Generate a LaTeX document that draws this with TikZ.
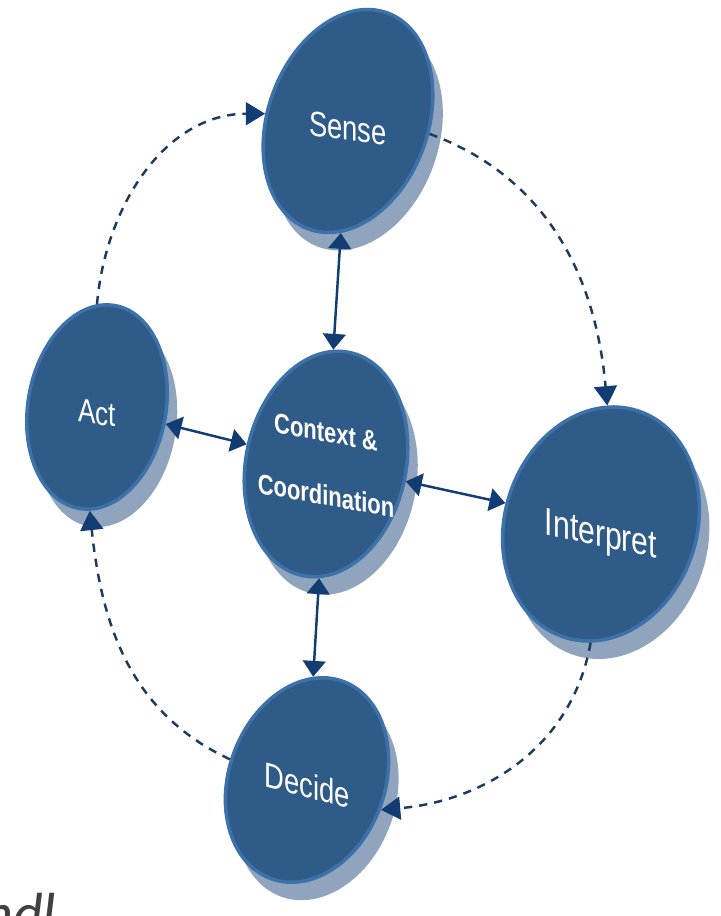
\documentclass[tikz,border=0pt]{standalone}
\usepackage{fontspec}
\setmainfont{Liberation Sans}
\newfontfamily\stagefont[FakeStretch=0.78]{Liberation Sans}
\newfontfamily\notefont{Carlito}
\usetikzlibrary{shapes.geometric,arrows.meta,shadows}
\definecolor{stagefill}{HTML}{2F5B88}
\definecolor{stagerim}{HTML}{3C71A9}
\definecolor{stageshade}{HTML}{90A5BD}
\definecolor{linkcol}{HTML}{123D72}
\definecolor{flowcol}{HTML}{1F3A5F}
\tikzset{
  stage/.style={ellipse, inner sep=0pt, fill=stagefill, draw=stagerim,
    line width=2pt,
    drop shadow={shadow xshift=0.2cm, shadow yshift=-0.36cm,
      fill=stageshade, opacity=1}},
  tag/.style={text=white, inner sep=0pt, align=center, transform shape},
  link/.style={{Triangle[length=9pt,width=13pt]}-{Triangle[length=9pt,width=13pt]},
    draw=linkcol, line width=1.4pt},
  flow/.style={-{Triangle[length=11pt,width=13pt,color=linkcol]},
    draw=flowcol, line width=1.4pt, dash pattern=on 4.7pt off 4pt}
}
\begin{document}
\begin{tikzpicture}[x=0.02cm,y=0.02cm]
  \useasboundingbox (0,0) rectangle (720,916);
  % stages
  \node[stage, minimum width=3.2cm, minimum height=4.6cm, rotate=-20] (sense) at (348,795) {};
  \node[stage, minimum width=3.2cm, minimum height=4.56cm, rotate=-12] (context) at (326,452) {};
  \node[stage, minimum width=3.84cm, minimum height=4.76cm, rotate=-18] (interpret) at (601,392) {};
  \node[stage, minimum width=2.76cm, minimum height=4.12cm, rotate=-10] (act) at (97,509) {};
  \node[stage, minimum width=3.12cm, minimum height=4.2cm, rotate=-20] (decide) at (307,136) {};
  % stage names
  \node[tag, yslant=-0.13, font=\stagefont\fontsize{20}{23}\selectfont]
    (sense-t) at ([yshift=-0.14cm]sense) {Sense};
  \node[tag, yslant=-0.18, font=\stagefont\fontsize{16}{36}\selectfont\bfseries]
    (context-t) at (context) {Context \&\\Coordination};
  \node[tag, yslant=-0.21, font=\stagefont\fontsize{22}{26}\selectfont]
    (interpret-t) at ([yshift=-0.26cm]interpret) {Interpret};
  \node[tag, yslant=-0.14, font=\stagefont\fontsize{19}{22}\selectfont]
    (act-t) at ([yshift=-0.12cm]act) {Act};
  \node[tag, yslant=-0.27, font=\stagefont\fontsize{20}{23}\selectfont]
    (decide-t) at ([yshift=-0.1cm]decide) {Decide};
  % links to the centre
  \draw[link] (sense) -- (context);
  \draw[link] (act) -- (context);
  \draw[link] (context) -- (interpret);
  \draw[link] (context) -- (decide);
  % outer loop
  \draw[flow] (act.100) to[out=85,in=180] (sense.195);
  \draw[flow] (sense.11) to[out=-20,in=95] (interpret.105);
  \draw[flow] (interpret.-77) to[out=-100,in=5] (decide.-2);
  \draw[flow] (decide.185) to[out=155,in=-84] (act.-84);
  % cut-off note
  \node[anchor=base west, inner sep=0pt, text=black!75] (note) at (-17,-17)
    {\notefont\itshape\fontsize{33}{40}\selectfont ndl};
\end{tikzpicture}
\end{document}
